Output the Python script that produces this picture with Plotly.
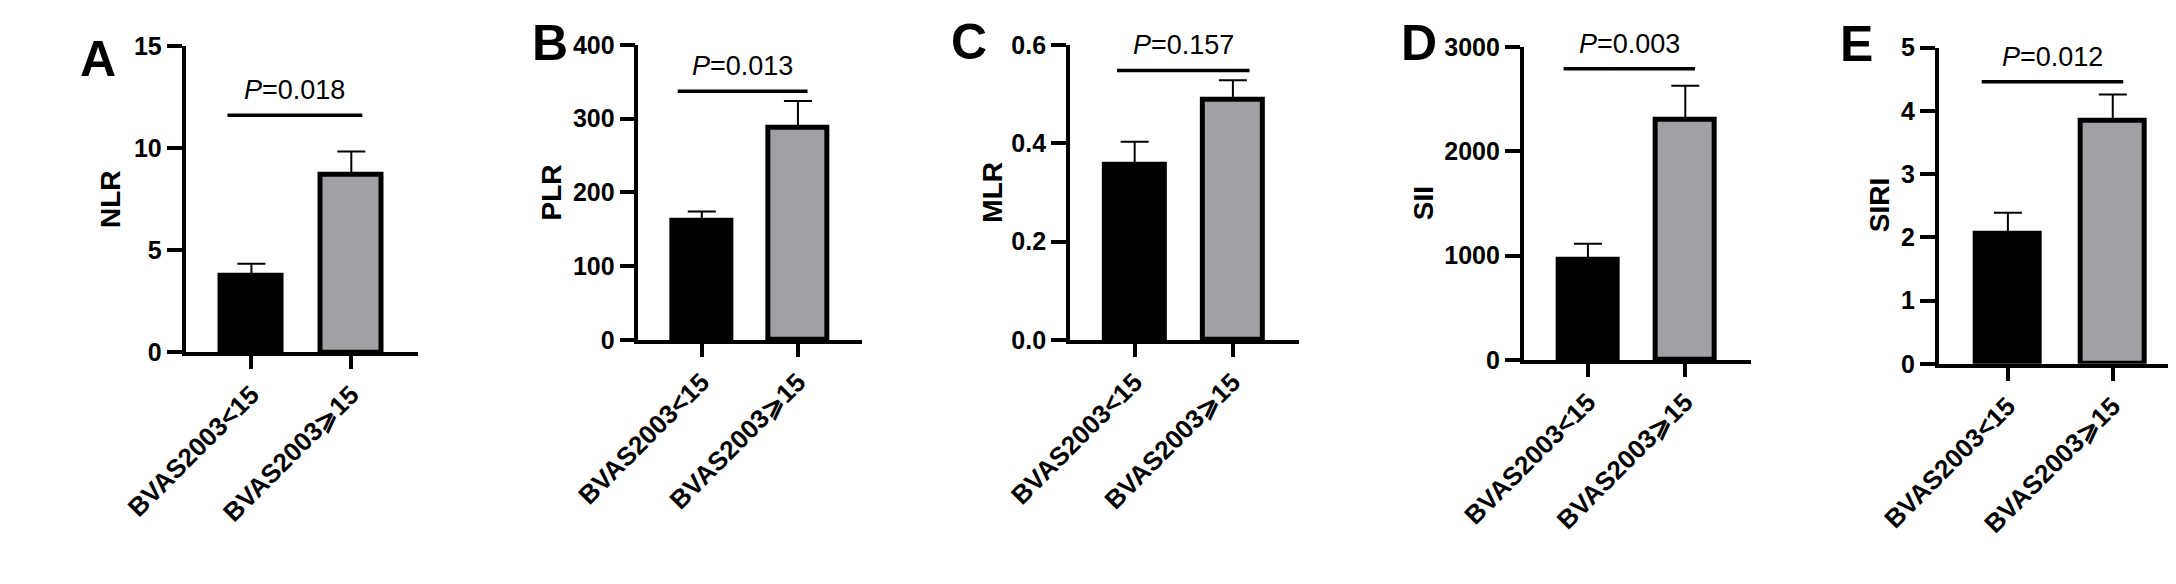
import plotly.graph_objects as go

W, H = 2176, 584
FONT = "Arial, Liberation Sans, sans-serif"
GRAY = "#A1A1A5"
BLACK = "#000000"

# ── Data ──────────────────────────────────────────────────────────────────────
GROUPS = ["BVAS2003<15", "BVAS2003⩾15"]
PANELS = ["A", "B", "C", "D", "E"]
YTITLES = ["NLR", "PLR", "MLR", "SII", "SIRI"]

NLR_MEAN = [3.77, 8.71]
NLR_UPPER = [4.33, 9.83]
PLR_MEAN = [161, 288]
PLR_UPPER = [174, 324]
MLR_MEAN = [0.356, 0.488]
MLR_UPPER = [0.403, 0.528]
SII_MEAN = [957, 2298]
SII_UPPER = [1112, 2626]
SIRI_MEAN = [2.05, 3.84]
SIRI_UPPER = [2.39, 4.26]

MEANS = [NLR_MEAN, PLR_MEAN, MLR_MEAN, SII_MEAN, SIRI_MEAN]
UPPERS = [NLR_UPPER, PLR_UPPER, MLR_UPPER, SII_UPPER, SIRI_UPPER]

Y_MAX = [15, 400, 0.6, 3000, 5]
Y_DTICK = [5, 100, 0.2, 1000, 1]
P_TEXT = ["0.018", "0.013", "0.157", "0.003", "0.012"]
SIG_Y = [11.6, 337, 0.548, 2790, 4.46]

# ── Layout geometry (pixels) ─────────────────────────────────────────────────
# y-axis line x, x-axis end x, top tick y, zero y
BOX = [
    (115, 355, 25, 347),
    (582, 813, 24, 334),
    (1027, 1263, 24, 334),
    (1495, 1729, 26, 355),
    (1923, 2175, 27, 359),
]
SIG_X = [(-0.24, 1.11), (-0.25, 1.10), (-0.18, 1.17), (-0.25, 1.10), (-0.25, 1.10)]
LETTER_POS = [(25, 39), (491, 22), (923, 21), (1387, 22), (1838, 23)]
YTITLE_X = [37, 492, 947, 1392, 1862]


def px(x):
    return x / W


def py(y):
    return 1 - y / H


fig = go.Figure()
annotations = []
shapes = []

for i in range(5):
    n = "" if i == 0 else str(i + 1)
    xa, ya = "x" + n, "y" + n
    x0, x1, ytop, yzero = BOX[i]

    fig.add_trace(go.Bar(
        x=[0, 1], y=MEANS[i],
        xaxis=xa, yaxis=ya,
        width=0.61,
        marker=dict(color=[BLACK, GRAY], line=dict(color=BLACK, width=5)),
        error_y=dict(
            type="data", symmetric=False,
            array=[u - m for u, m in zip(UPPERS[i], MEANS[i])],
            arrayminus=[0, 0],
            color=BLACK, thickness=2, width=14,
        ),
        showlegend=False,
        hoverinfo="skip",
    ))

    fig.update_layout(**{
        "xaxis" + n: dict(
            domain=[px(x0), px(x1)], anchor=ya,
            range=[-0.66, 1.67],
            tickmode="array", tickvals=[0, 1], ticktext=GROUPS,
            tickangle=-45,
            ticks="outside", ticklen=13, tickwidth=3.5, tickcolor=BLACK,
            showline=True, linecolor=BLACK, linewidth=3.5,
            showgrid=False, zeroline=False, fixedrange=True,
            tickfont=dict(family=FONT, size=26, color=BLACK, weight="bold"),
        ),
        "yaxis" + n: dict(
            domain=[py(yzero), py(ytop)], anchor=xa,
            range=[0, Y_MAX[i]], dtick=Y_DTICK[i],
            tickformat=".1f" if i == 2 else "d",
            ticks="outside", ticklen=15, tickwidth=3.5, tickcolor=BLACK,
            showline=True, linecolor=BLACK, linewidth=3.5,
            showgrid=False, zeroline=False, fixedrange=True,
            tickfont=dict(family=FONT, size=25, color=BLACK, weight="bold"),
        ),
    })

    # significance bar and p value
    sx0, sx1 = SIG_X[i]
    shapes.append(dict(
        type="line", xref=xa, yref=ya,
        x0=sx0, x1=sx1, y0=SIG_Y[i], y1=SIG_Y[i],
        line=dict(color=BLACK, width=3.5),
    ))
    annotations.append(dict(
        xref=xa, yref=ya, x=(sx0 + sx1) / 2, y=SIG_Y[i],
        text=f"<i>P</i>={P_TEXT[i]}", showarrow=False,
        yanchor="middle", yshift=25,
        font=dict(family=FONT, size=27, color=BLACK),
    ))

    # y title
    annotations.append(dict(
        xref="paper", yref="paper",
        x=px(YTITLE_X[i]), y=py((ytop + yzero) / 2),
        text=f"<b>{YTITLES[i]}</b>", textangle=-90, showarrow=False,
        xanchor="center", yanchor="middle",
        font=dict(family=FONT, size=28, color=BLACK),
    ))

    # panel letter
    lx, ly = LETTER_POS[i]
    annotations.append(dict(
        xref="paper", yref="paper", x=px(lx), y=py(ly),
        text=f"<b>{PANELS[i]}</b>", showarrow=False,
        xanchor="center", yanchor="middle",
        font=dict(family=FONT, size=50, color=BLACK),
    ))

fig.update_layout(
    width=W, height=H,
    margin=dict(l=0, r=0, t=0, b=0),
    paper_bgcolor="white", plot_bgcolor="white",
    bargap=0,
    shapes=shapes,
    annotations=annotations,
)

fig.write_html("out.html", config={"displayModeBar": False})
